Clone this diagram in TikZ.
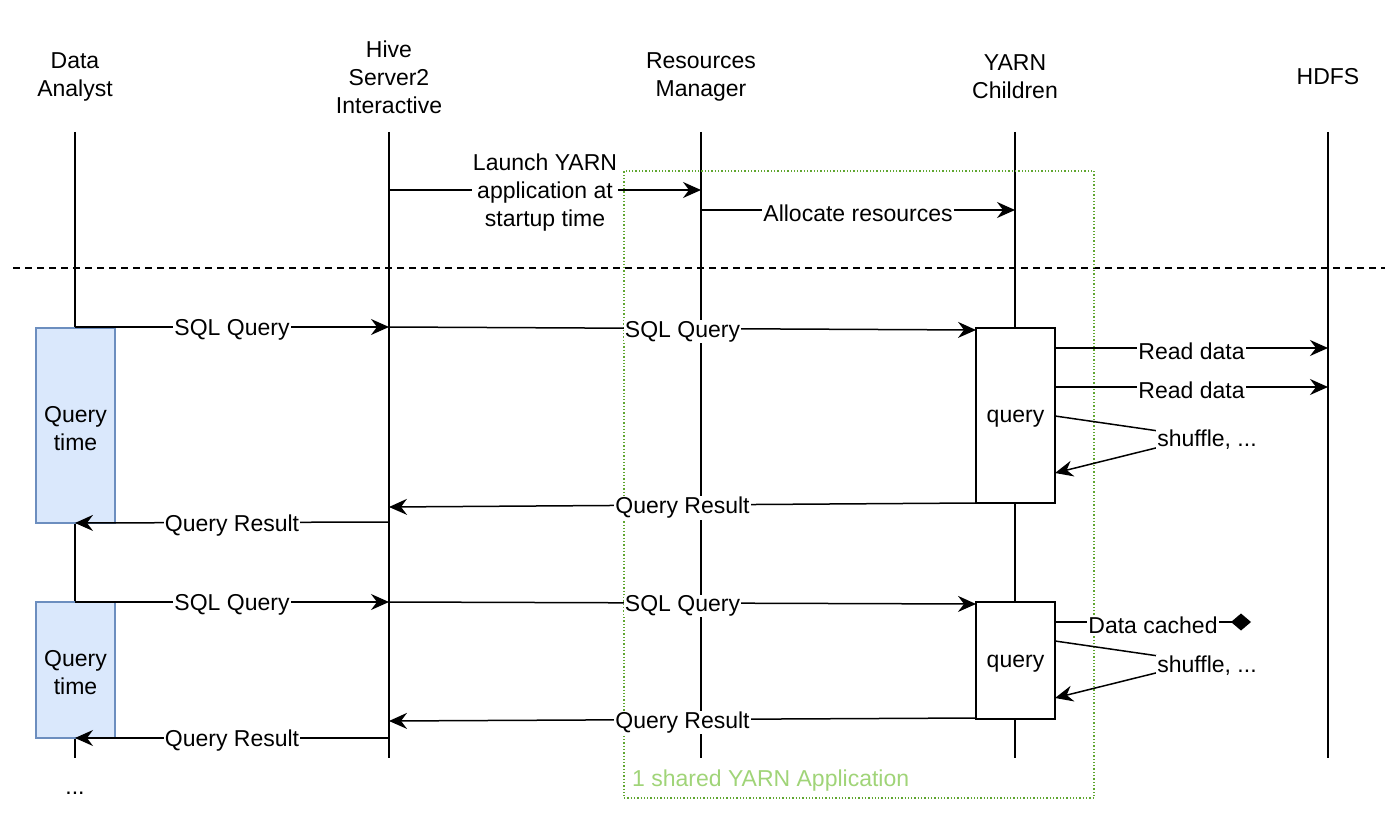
\documentclass[tikz,border=0pt]{standalone}
\usepackage{fontspec}
\setmainfont{Liberation Sans}
\usetikzlibrary{arrows.meta}
\definecolor{qfill}{RGB}{218,232,252}
\definecolor{qstroke}{RGB}{108,142,191}
\definecolor{appstroke}{RGB}{96,166,48}
\definecolor{apptext}{RGB}{160,212,120}
\begin{document}
\begin{tikzpicture}[x=1pt,y=-1pt,
  every node/.style={font=\fontsize{23}{28}\selectfont, align=center},
  txt/.style={yshift=-3pt},
  life/.style={line width=1.5pt},
  msg/.style={line width=1.5pt,-{Stealth[length=18pt,width=16pt,inset=6pt]}},
  lbl/.style={fill=white,inner sep=1pt,yshift=-3pt},
  qtime/.style={draw=qstroke,fill=qfill,line width=1.5pt,minimum width=79pt,inner sep=0pt,text depth=0pt},
  qbox/.style={draw=black,fill=white,line width=1.5pt,minimum width=79pt,inner sep=0pt},
]
\useasboundingbox (0,0) rectangle (1400,834);
% headers
\node[txt] (hda) at (75,74) {Data\\Analyst};
\node[txt] (hhs) at (389,74) {Hive\\Server2\\Interactive};
\node[txt] (hrm) at (701,74) {Resources\\Manager};
\node[txt] (hyc) at (1015,74) {YARN\\Children};
\node[txt] (hdfs) at (1328,74) {HDFS};
% lifelines
\foreach \n/\x in {da/75,hs/389,rm/701,yc/1015,df/1328}{
  \coordinate (\n T) at (\x,132);
  \coordinate (\n B) at (\x,758);
  \draw[life] (\n T) -- (\n B);
}
% separator
\coordinate (sepL) at (13,268);
\coordinate (sepR) at (1385,268);
\draw[line width=1.5pt,dash pattern=on 7pt off 5pt] (sepL) -- (sepR);
% application box
\node[draw=appstroke,dotted,line width=1.3pt,minimum width=470pt,minimum height=627pt,inner sep=0pt] (app) at (859,484.5) {};
\node[text=apptext,anchor=west,inner sep=0pt,txt] (applbl) at (632,778) {1 shared YARN Application};
% startup messages
\coordinate (l1) at (389,190); \coordinate (l2) at (701,190);
\draw[msg] (l1) -- node[lbl] (launch) {Launch YARN\\application at\\startup time} (l2);
\coordinate (a1) at (701,210); \coordinate (a2) at (1015,210);
\draw[msg] (a1) -- node[lbl] (alloc) {Allocate resources} (a2);
% query time boxes
\node[qtime,minimum height=195pt] (qt1) at (75.5,425.5) {};
\node[txt] (qt1t) at (qt1) {Query\\time};
\node[qtime,minimum height=136pt] (qt2) at (75.5,670) {};
\node[txt] (qt2t) at (qt2) {Query\\time};
% query boxes
\node[qbox,minimum height=175pt] (qb1) at (1015.5,415.5) {};
\node[txt] (qb1t) at (qb1) {query};
\node[qbox,minimum height=117pt] (qb2) at (1015.5,660.5) {};
\node[txt] (qb2t) at (qb2) {query};
% cycle 1
\coordinate (s1a) at (75,327); \coordinate (s1b) at (389,327); \coordinate (s1c) at (976,330);
\draw[msg] (s1a) -- node[lbl] (sql1) {SQL Query} (s1b);
\draw[msg] (s1b) -- node[lbl] (sql1b) {SQL Query} (s1c);
\coordinate (r1a) at (1055,348); \coordinate (r1b) at (1328,348);
\draw[msg] (r1a) -- node[lbl] (rd1) {Read data} (r1b);
\coordinate (r2a) at (1055,387); \coordinate (r2b) at (1328,387);
\draw[msg] (r2a) -- node[lbl] (rd2) {Read data} (r2b);
\coordinate (sh1a) at (1055,416); \coordinate (sh1w) at (1200,437); \coordinate (sh1b) at (1055,473);
\draw[msg] (sh1a) -- (sh1w) -- (sh1b);
\node[lbl] (sh1) at (1207,437) {shuffle, ...};
\coordinate (q1a) at (976,503); \coordinate (q1b) at (389,507);
\draw[msg] (q1a) -- node[lbl] (qr1) {Query Result} (q1b);
\coordinate (q1c) at (389,522); \coordinate (q1d) at (75,523);
\draw[msg] (q1c) -- node[lbl] (qr1b) {Query Result} (q1d);
% cycle 2
\coordinate (s2a) at (75,602); \coordinate (s2b) at (389,602); \coordinate (s2c) at (976,604);
\draw[msg] (s2a) -- node[lbl] (sql2) {SQL Query} (s2b);
\draw[msg] (s2b) -- node[lbl] (sql2b) {SQL Query} (s2c);
\coordinate (dca) at (1055,622); \coordinate (dcb) at (1251,622);
\draw[line width=1.5pt,-{Diamond[length=20pt,width=17pt]}] (dca) -- node[lbl] (dc) {Data cached} (dcb);
\coordinate (sh2a) at (1055,641); \coordinate (sh2w) at (1200,662); \coordinate (sh2b) at (1055,698);
\draw[msg] (sh2a) -- (sh2w) -- (sh2b);
\node[lbl] (sh2) at (1207,663) {shuffle, ...};
\coordinate (q2a) at (976,718); \coordinate (q2b) at (389,721);
\draw[msg] (q2a) -- node[lbl] (qr2) {Query Result} (q2b);
\coordinate (q2c) at (389,738); \coordinate (q2d) at (75,738);
\draw[msg] (q2c) -- node[lbl] (qr2b) {Query Result} (q2d);
\node[txt] (dots) at (75,790) {...};
\end{tikzpicture}
\end{document}
